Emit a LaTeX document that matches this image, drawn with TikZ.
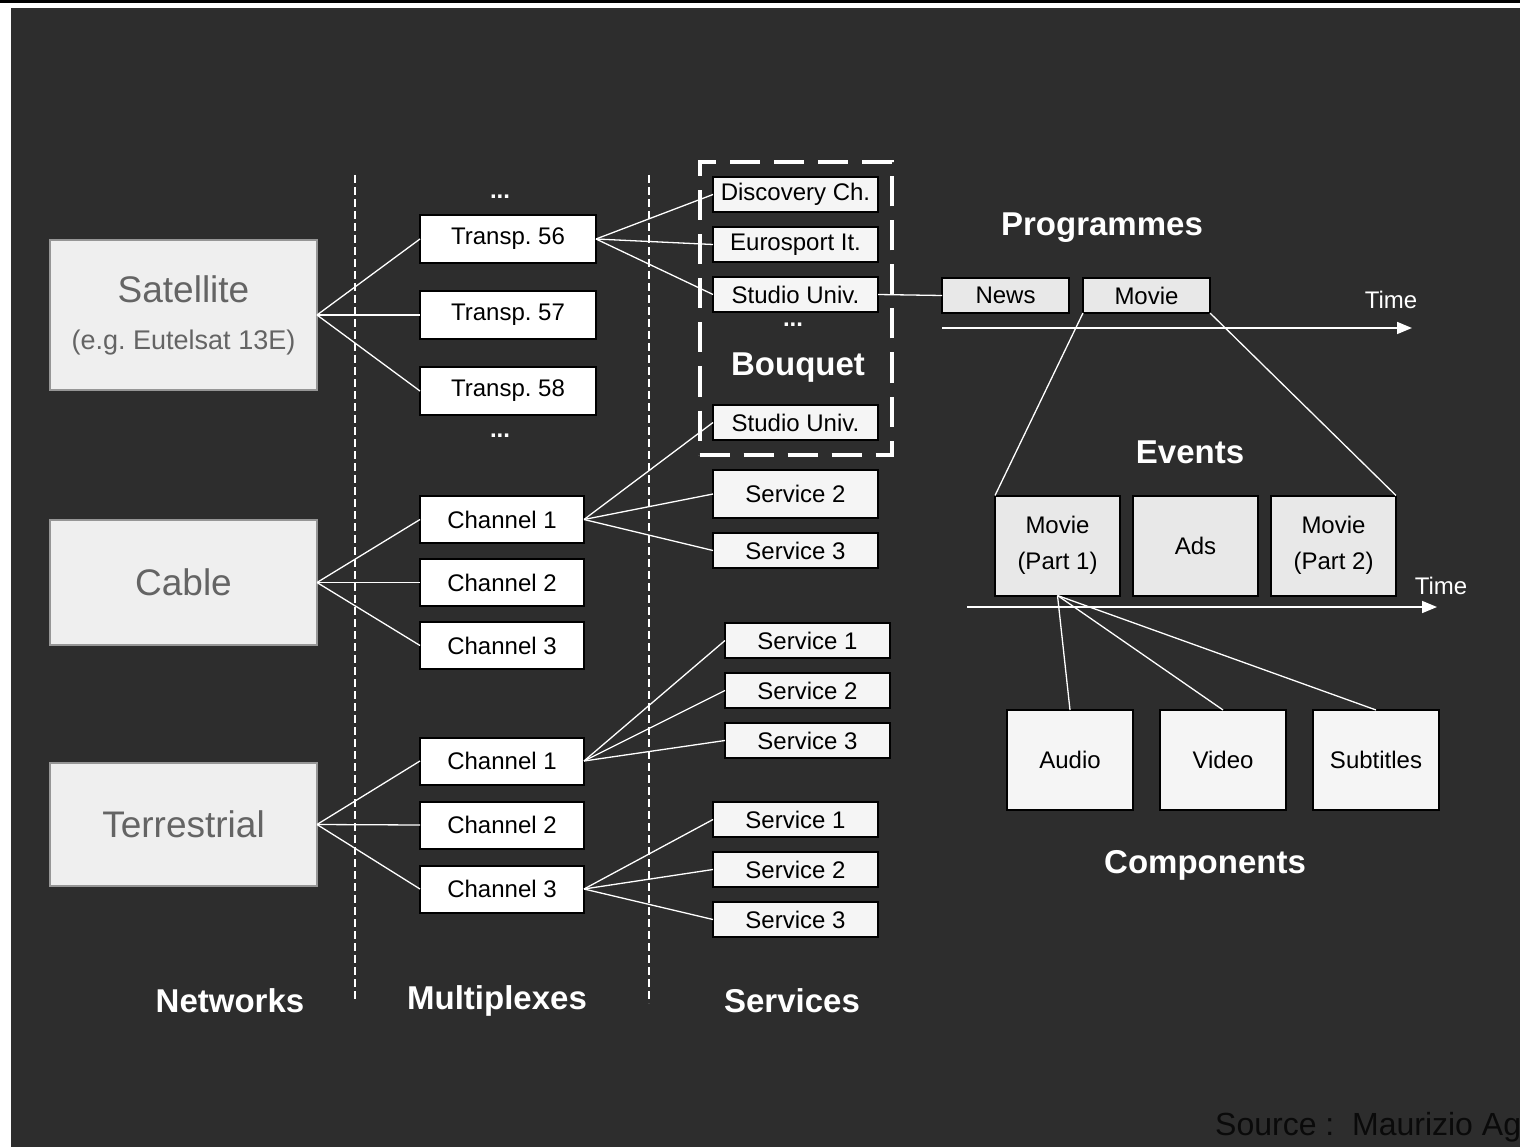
\documentclass[tikz,border=0pt]{standalone}
\usepackage{fontspec}
\setmainfont{Liberation Sans}
\usepackage{tikz}
\usetikzlibrary{arrows.meta,positioning}
\definecolor{bgdark}{RGB}{45,45,45}
\definecolor{netfill}{RGB}{239,239,239}
\definecolor{netline}{RGB}{150,150,150}
\definecolor{netgray}{RGB}{100,100,100}
\definecolor{svfill}{RGB}{245,245,245}
\definecolor{prgfill}{RGB}{232,232,232}
\definecolor{srcblack}{RGB}{10,10,10}
\newcommand{\boxfont}{\fontsize{24}{28}\selectfont}
\newcommand{\hdfont}{\fontsize{33}{38}\selectfont\bfseries}
\newcommand{\netfont}{\fontsize{37}{44}\selectfont}
\frenchspacing

\begin{document}
\begin{tikzpicture}[x=1pt,y=-1pt,
 net/.style={draw=netline, line width=2pt, fill=netfill, text=netgray, minimum width=267pt, inner sep=0pt, outer sep=0pt, align=center},
 mux/.style={draw=black, line width=2pt, fill=white, text=black, minimum height=47pt, inner sep=0pt, outer sep=0pt, font=\boxfont},
 svc/.style={draw=black, line width=2pt, fill=svfill, text=black, minimum width=165pt, minimum height=35pt, inner sep=0pt, outer sep=0pt, font=\boxfont},
 prg/.style={draw=black, line width=2pt, fill=prgfill, text=black, minimum width=127pt, minimum height=35pt, inner sep=0pt, outer sep=0pt, font=\boxfont},
 evt/.style={draw=black, line width=2pt, fill=prgfill, text=black, minimum width=125pt, minimum height=100pt, inner sep=0pt, outer sep=0pt, align=center, font=\fontsize{24}{36}\selectfont},
 comp/.style={draw=black, line width=2pt, fill=svfill, text=black, minimum width=126pt, minimum height=100pt, inner sep=0pt, outer sep=0pt, font=\boxfont},
 head/.style={text=white, font=\hdfont},
 dots/.style={text=white, font=\boxfont\bfseries, inner sep=0pt},
 link/.style={draw=white, line width=1.3pt},
 sep/.style={draw=white, line width=1.3pt, dash pattern=on 8pt off 4pt},
 timeline/.style={draw=white, line width=1.6pt, -{Triangle[length=15pt,width=12pt]}}]
\useasboundingbox (0,0) rectangle (1520,1147);
\fill[white] (0,0) rectangle (1520,1147);
\fill[black] (0,0) rectangle (1520,3);
\fill[bgdark] (11,8) rectangle (1520,1147);

% column separators
\coordinate (sepa) at (355,175); \coordinate (sepb) at (355,1002);
\coordinate (sepc) at (649,175); \coordinate (sepd) at (649,1003);
\draw[sep] (sepa)--(sepb); \draw[sep] (sepc)--(sepd);

% networks
\node[net, minimum height=150pt, font=\fontsize{37}{47}\selectfont] (sat) at (183.5,315) {Satellite\\\fontsize{27}{47}\selectfont (e.g. Eutelsat 13E)};
\node[net, minimum height=125pt, font=\netfont] (cab) at (183.5,582.5) {Cable};
\node[net, minimum height=123pt, font=\netfont] (ter) at (183.5,824.5) {Terrestrial};

% multiplexes
\node[mux, minimum width=176pt, minimum height=48pt] (tr56) at (508,239) {Transp. 56};
\node[mux, minimum width=176pt, minimum height=48pt, below=28pt of tr56] (tr57) {Transp. 57};
\node[mux, minimum width=176pt, minimum height=48pt, below=28pt of tr57] (tr58) {Transp. 58};
\node[dots] (trdotsa) at (500,197) {...};
\node[dots] (trdotsb) at (500,436) {...};
\node[mux, minimum width=164pt] (cch1) at (502,519.5) {Channel 1};
\node[mux, minimum width=164pt, below=16pt of cch1] (cch2) {Channel 2};
\node[mux, minimum width=164pt, below=16pt of cch2] (cch3) {Channel 3};
\node[mux, minimum width=164pt] (tch1) at (502,761) {Channel 1};
\node[mux, minimum width=164pt, below=17pt of tch1] (tch2) {Channel 2};
\node[mux, minimum width=164pt, below=17pt of tch2] (tch3) {Channel 3};

% services and bouquet
\node[draw=white, line width=4pt, dash pattern=on 30pt off 14pt, minimum width=192pt, minimum height=292pt, inner sep=0pt] (bqframe) at (795.5,308.5) {};
\node[svc] (disc) at (795.5,194.5) {Discovery Ch.};
\node[svc, below=15pt of disc] (euro) {Eurosport It.};
\node[svc, below=15pt of euro] (studio) {Studio Univ.};
\node[dots] (bqdots) at (793,325) {...};
\node[head] (bqlabel) at (798,368) {Bouquet};
\node[svc] (studiob) at (795.5,422.5) {Studio Univ.};
\node[svc, minimum height=48pt] (csv2) at (795.5,494) {Service 2};
\node[svc, below=15pt of csv2] (csv3) {Service 3};
\node[svc] (t1sv1) at (807.5,640.5) {Service 1};
\node[svc, below=15pt of t1sv1] (t1sv2) {Service 2};
\node[svc, below=15pt of t1sv2] (t1sv3) {Service 3};
\node[svc] (t3sv1) at (795.5,819.5) {Service 1};
\node[svc, below=15pt of t3sv1] (t3sv2) {Service 2};
\node[svc, below=15pt of t3sv2] (t3sv3) {Service 3};

% links networks -> multiplexes -> services
\draw[link] (sat.east)--(tr56.west); \draw[link] (sat.east)--(tr57.west); \draw[link] (sat.east)--(tr58.west);
\draw[link] (cab.east)--(cch1.west); \draw[link] (cab.east)--(cch2.west); \draw[link] (cab.east)--(cch3.west);
\draw[link] (ter.east)--(tch1.west); \draw[link] (ter.east)--(tch2.west); \draw[link] (ter.east)--(tch3.west);
\draw[link] (tr56.east)--(disc.west); \draw[link] (tr56.east)--(euro.west); \draw[link] (tr56.east)--(studio.west);
\draw[link] (cch1.east)--(studiob.west); \draw[link] (cch1.east)--(csv2.west); \draw[link] (cch1.east)--(csv3.west);
\draw[link] (tch1.east)--(t1sv1.west); \draw[link] (tch1.east)--(t1sv2.west); \draw[link] (tch1.east)--(t1sv3.west);
\draw[link] (tch3.east)--(t3sv1.west); \draw[link] (tch3.east)--(t3sv2.west); \draw[link] (tch3.east)--(t3sv3.west);

% programmes
\node[head] (prglabel) at (1102,228) {Programmes};
\node[prg] (news) at (1005.5,295.5) {News};
\node[prg, right=14pt of news] (movie) {Movie};
\draw[link] (studio.east)--(news.west);
\coordinate (tas) at (942,328); \coordinate (tae) at (1412,328);
\draw[timeline] (tas)--(tae);
\node[text=white, font=\boxfont] (timea) at (1391,300) {Time};

% events
\node[head] (evlabel) at (1190,452) {Events};
\node[evt] (evp1) at (1057.5,545.5) {Movie\\(Part 1)};
\node[evt, right=13pt of evp1] (ads) {Ads};
\node[evt, right=13pt of ads] (evp2) {Movie\\(Part 2)};
\draw[link] (movie.south west)--(evp1.north west); \draw[link] (movie.south east)--(evp2.north east);
\coordinate (tbs) at (967,607); \coordinate (tbe) at (1437,607);
\draw[timeline] (tbs)--(tbe);
\node[text=white, font=\boxfont] (timeb) at (1441,586) {Time};

% components
\node[comp] (audio) at (1070,760) {Audio};
\node[comp, right=27pt of audio] (video) {Video};
\node[comp, right=27pt of video] (subt) {Subtitles};
\draw[link] (evp1.south)--(audio.north); \draw[link] (evp1.south)--(video.north); \draw[link] (evp1.south)--(subt.north);
\node[head] (complabel) at (1205,865) {Components};

% column titles
\node[head] (netlabel) at (230,1001) {Networks};
\node[head] (muxlabel) at (497,1001) {Multiplexes};
\node[head] (svclabel) at (792,1001) {Services};
\node[text=srcblack, font=\fontsize{32}{36}\selectfont, anchor=base west, inner sep=0pt] (source) at (1215,1135) {Source :\ \ Maurizio Ag};
\end{tikzpicture}
\end{document}
